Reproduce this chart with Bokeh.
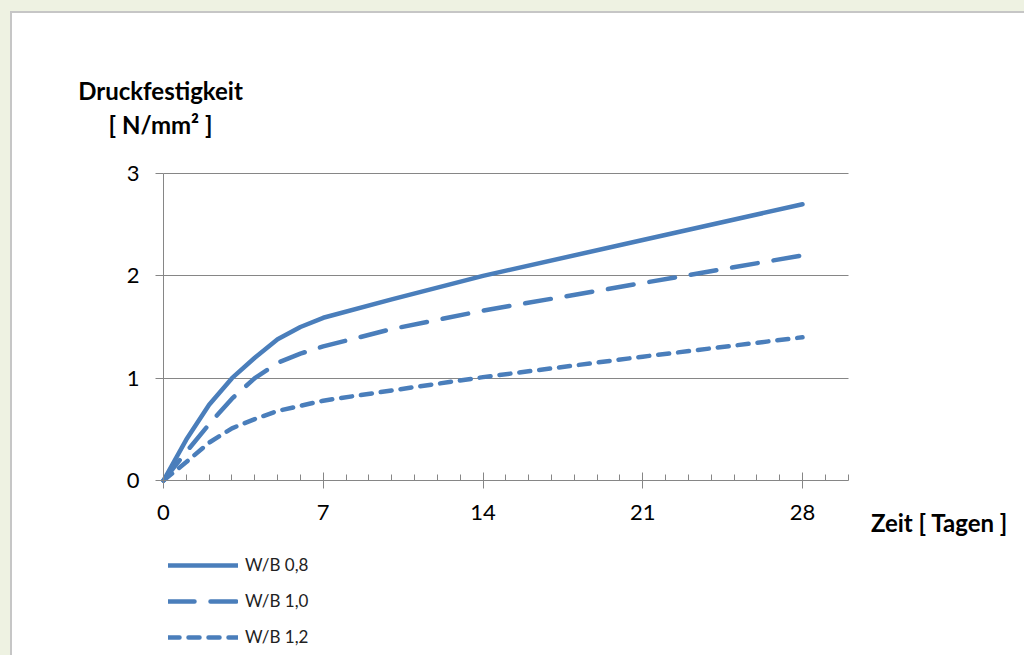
from bokeh.plotting import figure
from bokeh.models import Range1d, FixedTicker, Legend, LegendItem, Label
from bokeh.layouts import column
from bokeh.embed import file_html
from bokeh.resources import INLINE

# ---- data ----
days = [0, 1, 2, 3, 4, 5, 6, 7, 10, 14, 21, 28]
wb08 = [0, 0.40, 0.74, 1.00, 1.20, 1.38, 1.50, 1.59, 1.77, 2.00, 2.35, 2.70]
wb10 = [0, 0.28, 0.55, 0.80, 1.00, 1.15, 1.24, 1.31, 1.48, 1.66, 1.93, 2.20]
wb12 = [0, 0.18, 0.37, 0.51, 0.60, 0.68, 0.73, 0.78, 0.88, 1.01, 1.21, 1.40]
series_labels = ["W/B 0,8", "W/B 1,0", "W/B 1,2"]
x_ticks = [0, 7, 14, 21, 28]
x_minor = list(range(0, 31))
y_ticks = [0, 1, 2, 3]
x_axis_span = (0, 30)
y_axis_span = (0, 3)
y_title = ["Druckfestigkeit", "[ N/mm² ]"]
x_title = "Zeit [ Tagen ]"

FONT = "Lato"
BLUE = "#4a7ebb"
GRAY = "#868686"

W, H = 1014, 644
# view ranges chosen so the plot area sits where it does in the reference
XS = 639 / 28.0          # px per day
YS = 307 / 3.0           # px per N/mm²
x0 = -151 / XS
y1 = 3 + 160 / YS
p = figure(width=W, height=H, x_range=Range1d(x0, x0 + W / XS),
           y_range=Range1d(y1 - H / YS, y1),
           output_backend="svg", toolbar_location=None, title=None,
           min_border=0, min_border_left=0, min_border_right=0,
           min_border_top=0, min_border_bottom=0)
p.outline_line_color = None
p.background_fill_color = "white"
p.border_fill_color = "white"

# axes, pinned at the origin
p.xaxis.fixed_location = 0
p.yaxis.fixed_location = 0
p.xaxis.bounds = x_axis_span
p.yaxis.bounds = y_axis_span
p.xaxis.ticker = FixedTicker(ticks=x_ticks, minor_ticks=x_minor)
p.yaxis.ticker = FixedTicker(ticks=y_ticks, minor_ticks=[])
for ax in (p.xaxis, p.yaxis):
    ax.axis_line_color = GRAY
    ax.major_tick_line_color = GRAY
    ax.minor_tick_line_color = GRAY
    ax.major_label_text_font = FONT
    ax.major_label_text_font_size = "22px"
    ax.major_label_text_color = "black"
p.xaxis.major_tick_in = 8
p.xaxis.major_tick_out = 8
p.xaxis.minor_tick_in = 6
p.xaxis.minor_tick_out = 0
p.xaxis.major_label_standoff = 16
p.yaxis.major_tick_in = 0
p.yaxis.major_tick_out = 8
p.yaxis.minor_tick_line_color = None
p.yaxis.major_label_standoff = 16

p.xgrid.grid_line_color = None
p.ygrid.ticker = FixedTicker(ticks=y_ticks[1:])
p.ygrid.grid_line_color = GRAY
p.ygrid.grid_line_width = 1
try:
    p.ygrid.cross_bounds = x_axis_span
except Exception:
    p.ygrid.grid_line_color = None
    p.segment(x0=[x_axis_span[0]] * 3, x1=[x_axis_span[1]] * 3,
              y0=y_ticks[1:], y1=y_ticks[1:], line_color=GRAY, line_width=1)

# series
r1 = p.line(days, wb08, line_color=BLUE, line_width=4.5, line_cap="round", line_join="round")
r2 = p.line(days, wb10, line_color=BLUE, line_width=4.5, line_cap="round", line_join="round",
            line_dash="26 16")
r3 = p.line(days, wb12, line_color=BLUE, line_width=4.5, line_cap="round", line_join="round",
            line_dash="11 9")

legend = Legend(items=[LegendItem(label=series_labels[0], renderers=[r1]),
                       LegendItem(label=series_labels[1], renderers=[r2]),
                       LegendItem(label=series_labels[2], renderers=[r3])],
                location=(156, 10), orientation="vertical",
                glyph_width=70, glyph_height=20, label_standoff=7, spacing=15,
                padding=0, margin=0, border_line_color=None,
                background_fill_alpha=0,
                label_text_font=FONT, label_text_font_size="17px",
                label_text_color="#222222")
p.add_layout(legend)

def add_text(txt, x, y):
    p.add_layout(Label(x=x, y=y, x_units="screen", y_units="screen", text=txt,
                       text_font=FONT, text_font_size="24px", text_font_style="bold",
                       text_align="center", text_baseline="middle", text_color="black"))

add_text(y_title[0], 148, 567)
add_text(y_title[1], 148, 533)
add_text(x_title, 927, 135)

p.margin = (11, 0, 0, 10)
p.styles = {"border-top": "2px solid #c6c6c6", "border-left": "2px solid #c6c6c6"}
root = column(p, styles={
    "background": "linear-gradient(#eef2e2 11px, transparent 11px), "
                  "linear-gradient(to right, #eef2e2 10px, white 10px)"})

open("out.html", "w").write(file_html(root, INLINE))
